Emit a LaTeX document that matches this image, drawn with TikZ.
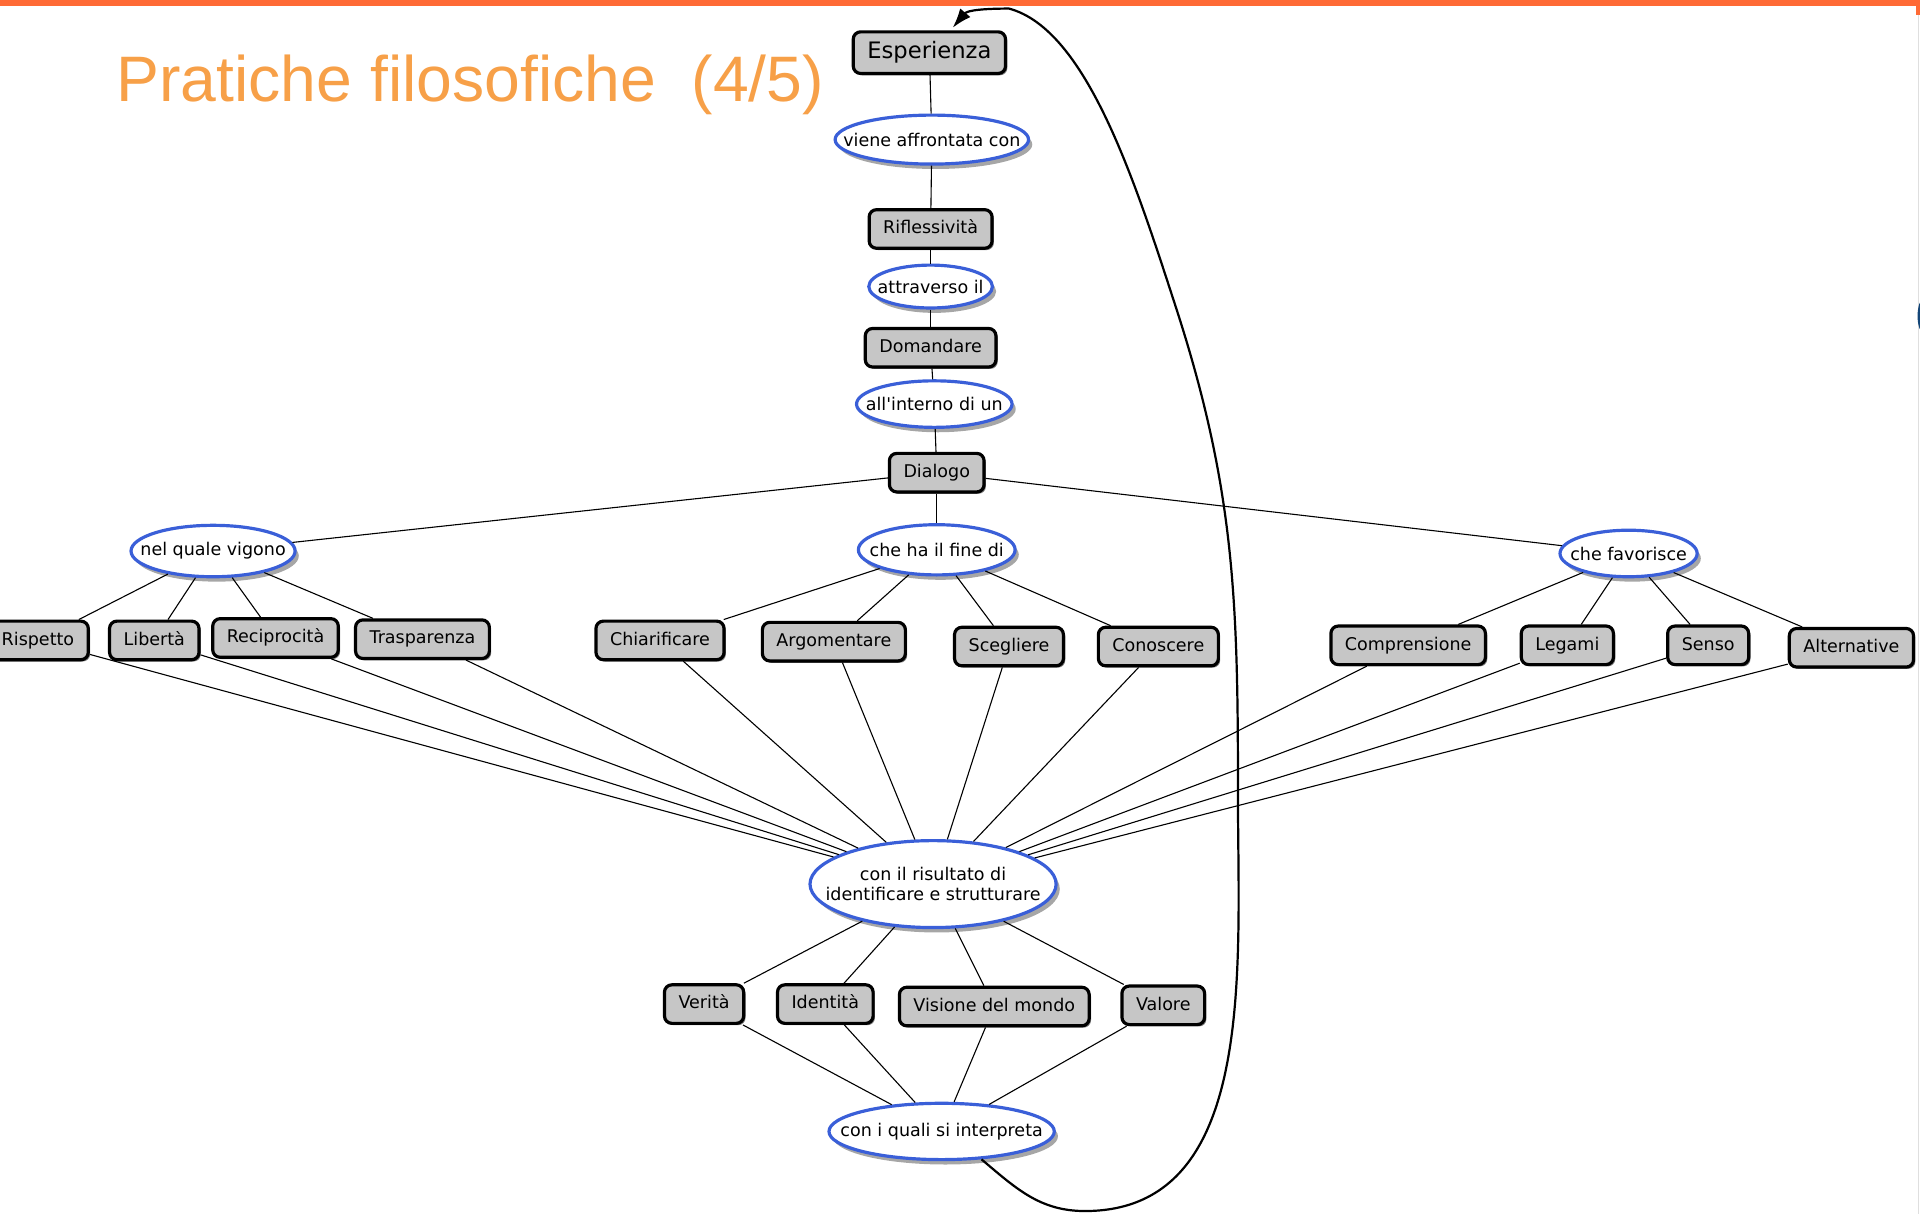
\documentclass[tikz,border=0pt]{standalone}
\usepackage{fontspec}
\newfontfamily\mapfont{DejaVu Sans}
\newfontfamily\titlefont{Liberation Sans}
\usetikzlibrary{shapes.geometric}
\usetikzlibrary{shadows}
\usetikzlibrary{arrows.meta}
\definecolor{boxgray}{RGB}{198,198,198}
\definecolor{ringblue}{RGB}{58,95,216}
\definecolor{barorange}{RGB}{255,106,53}
\definecolor{titleorange}{RGB}{247,160,72}
\definecolor{markblue}{RGB}{20,70,120}
\tikzset{
  conceptbox/.style={draw=black, line width=2.6pt, rounded corners=6pt, fill=boxgray,
    inner xsep=11.5pt, inner ysep=0pt, minimum height=31.5pt, text height=10.8pt, text depth=3pt,
    font=\mapfont\fontsize{14.3}{16}\selectfont,
    drop shadow={shadow xshift=1.5pt, shadow yshift=-1.5pt, fill=black!50, opacity=1}},
  phrasering/.style={ellipse, draw=ringblue, line width=2.6pt, fill=white, inner sep=0pt,
    align=center, font=\mapfont\fontsize{14.3}{16.5}\selectfont,
    drop shadow={shadow xshift=3pt, shadow yshift=-4pt, fill=gray!70, opacity=1}},
  linkline/.style={line width=0.9pt},
  backarrow/.style={line width=1.8pt, -{Latex[length=16pt,width=11pt]}}
}
\newcommand{\concbox}[4]{\node[conceptbox] (#1) at (#2,-#3) {#4};}
\newcommand{\phrring}[6]{\node[phrasering, minimum width=#4pt, minimum height=#5pt] (#1) at (#2,-#3) {#6};}
\newcommand{\lnk}[2]{\draw[linkline] (#1) -- (#2);}
\newcommand{\ringtext}[1]{\makebox[0pt]{#1}}

\begin{document}
\begin{tikzpicture}[x=1pt, y=1pt]
        \useasboundingbox (0,0) rectangle (1568,-991.4);
        % slide frame
        \fill[barorange] (0,0) rectangle (1568,-5);
        \fill[barorange] (1565,0) rectangle (1568,-12);
        \draw[gray!25, line width=0.6pt] (1566.5,-12) -- (1566.5,-991.4);
        \fill[markblue] (1571,-258) ellipse (5 and 14);
        \node[anchor=base west, inner sep=0pt, text=titleorange, font=\titlefont\fontsize{52.5}{60}\selectfont]
          (title) at (95,-83) {Pratiche filosofiche\ \ (4/5)};
        % chain
        \node[conceptbox, font=\mapfont\fontsize{18.5}{20}\selectfont, minimum height=34pt, text height=13.5pt, text depth=4pt]
          (esp) at (759,-43) {Esperienza};
        \phrring{viene}{761}{114}{158}{40}{\ringtext{viene affrontata con}}
        \concbox{rifl}{760}{187}{Riflessività}
        \phrring{attr}{760}{234}{101}{35}{\ringtext{attraverso il}}
        \concbox{dom}{760}{284}{Domandare}
        \phrring{inter}{763}{330}{127}{38}{\ringtext{all'interno di un}}
        \concbox{dia}{765}{386}{Dialogo}
        % branches
        \phrring{vig}{174}{450}{134}{42}{\ringtext{nel quale vigono}}
        \phrring{fine}{765}{449}{128}{41}{\ringtext{che ha il fine di}}
        \phrring{fav}{1330}{452}{112}{38}{\ringtext{che favorisce}}
        % row 1
        \concbox{risp}{31}{523}{Rispetto}
        \concbox{lib}{126}{523}{Libertà}
        \concbox{reci}{225}{521}{Reciprocità}
        \concbox{tras}{345}{522}{Trasparenza}
        \concbox{chia}{539}{523}{Chiarificare}
        \concbox{argo}{681}{524}{Argomentare}
        \concbox{sceg}{824}{528}{Scegliere}
        \concbox{cono}{946}{528}{Conoscere}
        \concbox{comp}{1150}{527}{Comprensione}
        \concbox{lega}{1280}{527}{Legami}
        \concbox{sens}{1395}{527}{Senso}
        \concbox{alte}{1512}{529}{Alternative}
        % result
        \phrring{ris}{762}{722}{201}{71}{\ringtext{con il risultato di}\\\ringtext{identificare e strutturare}}
        % row 2
        \concbox{ver}{575}{820}{Verità}
        \concbox{iden}{674}{820}{Identità}
        \concbox{vis}{812}{822}{Visione del mondo}
        \concbox{val}{950}{821}{Valore}
        \phrring{interp}{769}{924}{184}{46}{\ringtext{con i quali si interpreta}}
        % links
        \lnk{esp}{viene}
        \lnk{viene}{rifl}
        \lnk{rifl}{attr}
        \lnk{attr}{dom}
        \lnk{dom}{inter}
        \lnk{inter}{dia}
        \lnk{dia}{vig}
        \lnk{dia}{fine}
        \lnk{dia}{fav}
        \lnk{vig}{risp}
        \lnk{vig}{lib}
        \lnk{vig}{reci}
        \lnk{vig}{tras}
        \lnk{fine}{chia}
        \lnk{fine}{argo}
        \lnk{fine}{sceg}
        \lnk{fine}{cono}
        \lnk{fav}{comp}
        \lnk{fav}{lega}
        \lnk{fav}{sens}
        \lnk{fav}{alte}
        \lnk{risp}{ris}
        \lnk{lib}{ris}
        \lnk{reci}{ris}
        \lnk{tras}{ris}
        \lnk{chia}{ris}
        \lnk{argo}{ris}
        \lnk{sceg}{ris}
        \lnk{cono}{ris}
        \lnk{comp}{ris}
        \lnk{lega}{ris}
        \lnk{sens}{ris}
        \lnk{alte}{ris}
        \lnk{ris}{ver}
        \lnk{ris}{iden}
        \lnk{ris}{vis}
        \lnk{ris}{val}
        \lnk{ver}{interp}
        \lnk{iden}{interp}
        \lnk{vis}{interp}
        \lnk{val}{interp}
        % back to the start
        \coordinate (loopbot) at (886,-989);
        \coordinate (loopright) at (1011,-650);
        \coordinate (loopmid) at (960,-250);
        \coordinate (looptop) at (824,-7);
        \coordinate (looptip) at ([xshift=19pt,yshift=2pt]esp.north);
        \draw[backarrow] (interp.-35) to[out=-40,in=180] (loopbot) to[out=0,in=-90] (loopright)
          to[out=90,in=-72] (loopmid) to[out=108,in=-15,in looseness=0.6] (looptop)
          to[out=180,in=50] (looptip);
\end{tikzpicture}
\end{document}
